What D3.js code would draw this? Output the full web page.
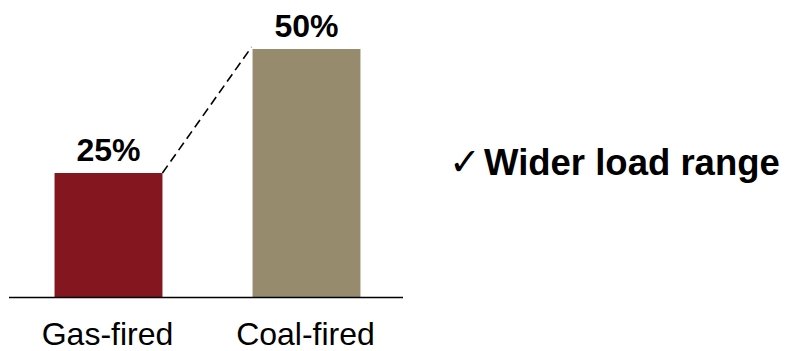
<!DOCTYPE html>
<html>
<head>
<meta charset="utf-8">
<script src="https://cdn.jsdelivr.net/npm/d3@7"></script>
<style>
  html, body { margin: 0; padding: 0; background: #fff; }
  svg { display: block; }
</style>
</head>
<body>
<svg id="chart" width="788" height="351"></svg>
<script>
// Minimum stable load by plant type
const categories = ["Gas-fired", "Coal-fired"];
const values = [25, 50];
const valueLabels = ["25%", "50%"];
const barColors = ["#841620", "#978B6D"];
const note = "Wider load range";

const svg = d3.select("#chart");
const font = "'Liberation Sans', Arial, sans-serif";

const x = d3.scaleBand()
  .domain(categories)
  .range([9, 406])
  .paddingInner(0.455)
  .paddingOuter(0.23);

const y = d3.scaleLinear()
  .domain([0, 50])
  .range([297, 49]);

// bars
svg.selectAll("rect.bar")
  .data(categories)
  .join("rect")
  .attr("class", "bar")
  .attr("x", d => x(d))
  .attr("y", (d, i) => y(values[i]))
  .attr("width", x.bandwidth())
  .attr("height", (d, i) => y(0) - y(values[i]))
  .attr("fill", (d, i) => barColors[i]);

// baseline
svg.append("line")
  .attr("x1", 9).attr("x2", 403)
  .attr("y1", y(0) + 0.5).attr("y2", y(0) + 0.5)
  .attr("stroke", "#000").attr("stroke-width", 1.5);

// dashed connector between the bar tops
svg.append("line")
  .attr("x1", x(categories[0]) + x.bandwidth())
  .attr("y1", y(values[0]))
  .attr("x2", x(categories[1]) - 1)
  .attr("y2", y(values[1]) - 2)
  .attr("stroke", "#000")
  .attr("stroke-width", 1.6)
  .attr("stroke-dasharray", "9,5");

// value labels
svg.selectAll("text.val")
  .data(categories)
  .join("text")
  .attr("class", "val")
  .attr("x", d => x(d) + x.bandwidth() / 2)
  .attr("y", (d, i) => y(values[i]) - 12)
  .attr("text-anchor", "middle")
  .attr("font-family", font)
  .attr("font-weight", "bold")
  .attr("font-size", 32)
  .attr("fill", "#000")
  .text((d, i) => valueLabels[i]);

// category labels
svg.selectAll("text.cat")
  .data(categories)
  .join("text")
  .attr("class", "cat")
  .attr("x", d => x(d) + x.bandwidth() / 2 - 1)
  .attr("y", 345)
  .attr("text-anchor", "middle")
  .attr("font-family", font)
  .attr("font-size", 32)
  .attr("fill", "#000")
  .text(d => d);

// side note
svg.append("text")
  .attr("x", 449).attr("y", 175)
  .attr("font-family", "'DejaVu Sans', sans-serif")
  .attr("font-size", 38)
  .attr("fill", "#000")
  .text("\u2713");

svg.append("text")
  .attr("x", 484).attr("y", 175)
  .attr("font-family", font)
  .attr("font-weight", "bold")
  .attr("font-size", 36.5)
  .attr("fill", "#000")
  .text(note);
</script>
</body>
</html>
